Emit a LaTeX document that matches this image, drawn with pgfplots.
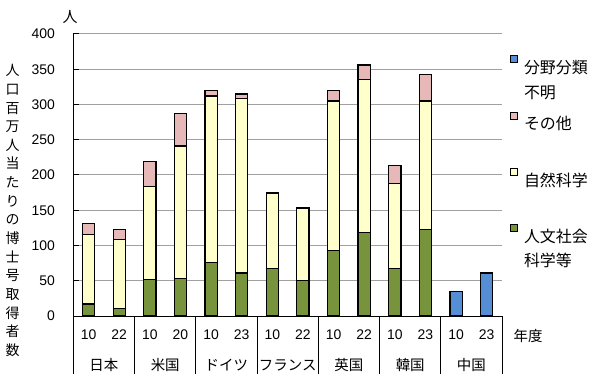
\documentclass[border=0pt]{standalone}
\usepackage{pgfplots}
\pgfplotsset{compat=1.18}
\usepackage{fontspec}
\setmainfont{Liberation Sans}
\newfontfamily\jp{Noto Sans CJK JP}
\definecolor{cGreen}{HTML}{77933C}
\definecolor{cYellow}{HTML}{FFFFCC}
\definecolor{cPink}{HTML}{E6B9B8}
\definecolor{cBlue}{HTML}{558ED5}
\definecolor{cGrid}{HTML}{A0A0A0}
\begin{document}
\begin{tikzpicture}
\useasboundingbox (-73.3bp,-58bp) rectangle (526.7bp,316bp);
\begin{axis}[
 at={(0,0)}, anchor=south west,
 scale only axis, width=428.7bp, height=282bp,
 xmin=-0.5, xmax=13.5, ymin=0, ymax=400,
 ybar stacked, bar width=0.4,
 axis x line*=bottom, axis y line*=left,
 axis line style={-, black, line width=1bp},
 xtick={0,...,13},
 xticklabels={10,22,10,20,10,23,10,22,10,22,10,23,10,23},
 x tick style={draw=none},
 ytick={0,50,...,400},
 y tick style={black, line width=1bp},
 tick align=inside, major tick length=6bp,
 ymajorgrids, grid style={cGrid, line width=1bp},
 tick label style={font=\fontsize{14}{16}\selectfont},
 /pgf/number format/assume math mode=true,
 xticklabel style={yshift=-10bp},
 yticklabel style={xshift=-15bp},
 clip=false,
 reverse legend,
 legend style={draw=none, fill=none, at={(1.0187,0.9245)}, anchor=north west,
   inner sep=0pt, row sep=16.7bp, column sep=4bp,
   cells={anchor=west, inner sep=0pt},
   font=\jp\fontsize{16}{24.5}\selectfont},
 legend image code/.code={\path[draw=none, fill=none] (0bp,-19.5bp) rectangle (7bp,19.5bp);
   \draw[#1, draw=black, line width=0.8bp] (0bp,12.5bp) rectangle (7bp,19.5bp);},
]
\addplot[fill=cGreen, draw=black, line width=1.2bp] coordinates {
 (0,17) (1,11) (2,52) (3,53) (4,76) (5,61) (6,67) (7,50) (8,93) (9,119) (10,67) (11,123) (12,0) (13,0)};
\addlegendentry{\parbox[c][48bp][t]{75bp}{人文社会\\科学等}}
\addplot[fill=cYellow, draw=black, line width=1.2bp] coordinates {
 (0,99) (1,97) (2,132) (3,188) (4,236) (5,248) (6,107) (7,103) (8,212) (9,216) (10,121) (11,182) (12,0) (13,0)};
\addlegendentry{\parbox[c][48bp][t]{75bp}{自然科学}}
\addplot[fill=cPink, draw=black, line width=1.2bp] coordinates {
 (0,15) (1,15) (2,35) (3,46) (4,8) (5,6) (6,1.5) (7,1) (8,15) (9,21) (10,25) (11,37) (12,0) (13,0)};
\addlegendentry{\parbox[c][48bp][t]{75bp}{その他}}
\addplot[fill=cBlue, draw=black, line width=1.2bp] coordinates {
 (0,0) (1,0) (2,0) (3,0) (4,0) (5,0) (6,0) (7,0) (8,0) (9,0) (10,0) (11,0) (12,35) (13,61)};
\addlegendentry{\parbox[c][48bp][t]{75bp}{分野分類\\不明}}
\end{axis}
% category table
\foreach \k in {0,...,7} {\draw[black, line width=1bp] (61.25bp*\k,0) -- (61.25bp*\k,-58bp);}
\foreach \x/\t in {30.6/日本, 91.9/米国, 153.1/ドイツ, 214.4/フランス, 275.6/英国, 336.9/韓国, 398.1/中国}
  {\node[font=\jp\fontsize{14.5}{16}\selectfont] at (\x bp,-49bp) {\t};}
\node[font=\jp\fontsize{14.5}{16}\selectfont] at (454.7bp,-19.7bp) {年度};
\node[font=\jp\fontsize{15}{16}\selectfont] at (-3.3bp,299bp) {人};
\node[font=\jp\fontsize{14}{18.7}\selectfont, align=center] at (-60.8bp,105.5bp)
  {人\\口\\百\\万\\人\\当\\た\\り\\の\\博\\士\\号\\取\\得\\者\\数};
\end{tikzpicture}
\end{document}
